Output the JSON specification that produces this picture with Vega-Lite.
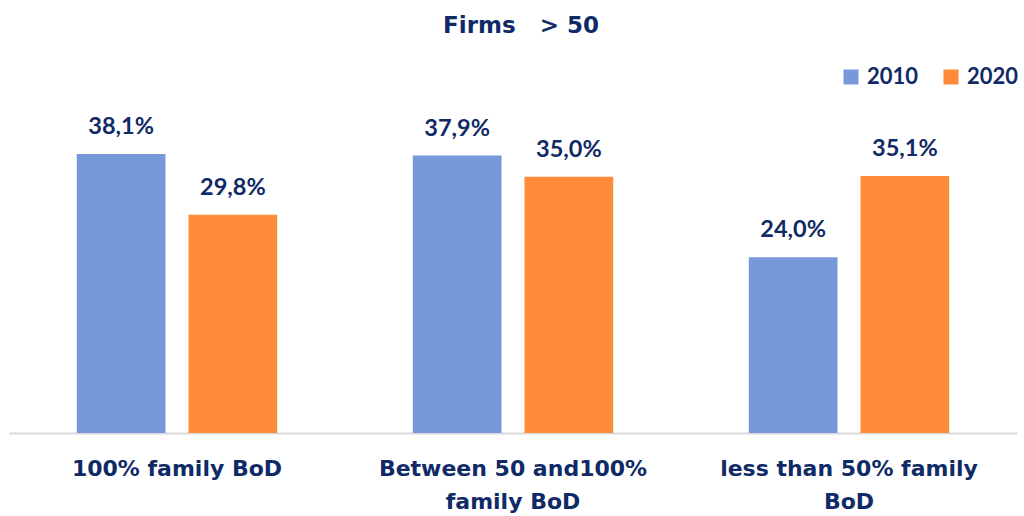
{
  "$schema": "https://vega.github.io/schema/vega-lite/v6.json",
  "width": 1008,
  "height": 366,
  "autosize": {"type": "none"},
  "padding": {"left": 9, "top": 67, "right": 7, "bottom": 83},
  "background": "white",
  "title": {
    "text": "Firms\u00a0\u00a0\u00a0> 50",
    "font": "DejaVu Sans",
    "fontSize": 23,
    "fontWeight": "bold",
    "color": "#0f2a66",
    "anchor": "middle",
    "dx": 8,
    "offset": 28
  },
  "data": {
    "values": [
      {"category": "100% family BoD", "year": "2010", "value": 0.381},
      {"category": "100% family BoD", "year": "2020", "value": 0.298},
      {"category": "Between 50 and100%|family BoD", "year": "2010", "value": 0.379},
      {"category": "Between 50 and100%|family BoD", "year": "2020", "value": 0.35},
      {"category": "less than 50% family|BoD", "year": "2010", "value": 0.24},
      {"category": "less than 50% family|BoD", "year": "2020", "value": 0.351}
    ]
  },
  "encoding": {
    "x": {
      "field": "category",
      "type": "nominal",
      "sort": null,
      "scale": {"paddingInner": 0, "paddingOuter": 0},
      "axis": {
        "title": null,
        "labelAngle": 0,
        "ticks": false,
        "domainColor": "#d9d9d9",
        "domainWidth": 2,
        "labelExpr": "split(datum.label, '|')",
        "labelFont": "DejaVu Sans",
        "labelFontSize": 22,
        "labelFontWeight": "bold",
        "labelColor": "#0f2a66",
        "labelPadding": 35,
        "labelLineHeight": 33,
        "labelLimit": 400,
        "labelBaseline": "middle"
      }
    },
    "xOffset": {
      "field": "year",
      "type": "nominal",
      "scale": {"paddingInner": 0.2054, "paddingOuter": 0.607}
    },
    "y": {
      "field": "value",
      "type": "quantitative",
      "scale": {"domain": [0, 0.5]},
      "axis": null
    }
  },
  "layer": [
    {
      "mark": {"type": "bar"},
      "encoding": {
        "color": {
          "field": "year",
          "type": "nominal",
          "scale": {"domain": ["2010", "2020"], "range": ["#7799d9", "#ff8a3a"]},
          "legend": {
            "title": null,
            "orient": "none",
            "legendX": 831,
            "legendY": -1,
            "direction": "horizontal",
            "symbolType": "square",
            "symbolSize": 225,
            "symbolStrokeWidth": 0,
            "labelFont": "Lato",
            "labelFontSize": 22,
            "labelFontWeight": "bold",
            "labelColor": "#0f2a66",
            "columnPadding": 21,
            "labelOffset": 5
          }
        }
      }
    },
    {
      "mark": {
        "type": "text",
        "font": "Lato",
        "fontSize": 23.5,
        "fontWeight": "bold",
        "color": "#0f2a66",
        "baseline": "alphabetic",
        "dy": -20
      },
      "encoding": {
        "text": {"field": "value", "type": "quantitative", "format": ".1%"}
      }
    }
  ],
  "config": {
    "view": {"stroke": null},
    "locale": {
      "number": {"decimal": ",", "thousands": ".", "grouping": [3], "currency": ["", " €"]}
    }
  }
}
